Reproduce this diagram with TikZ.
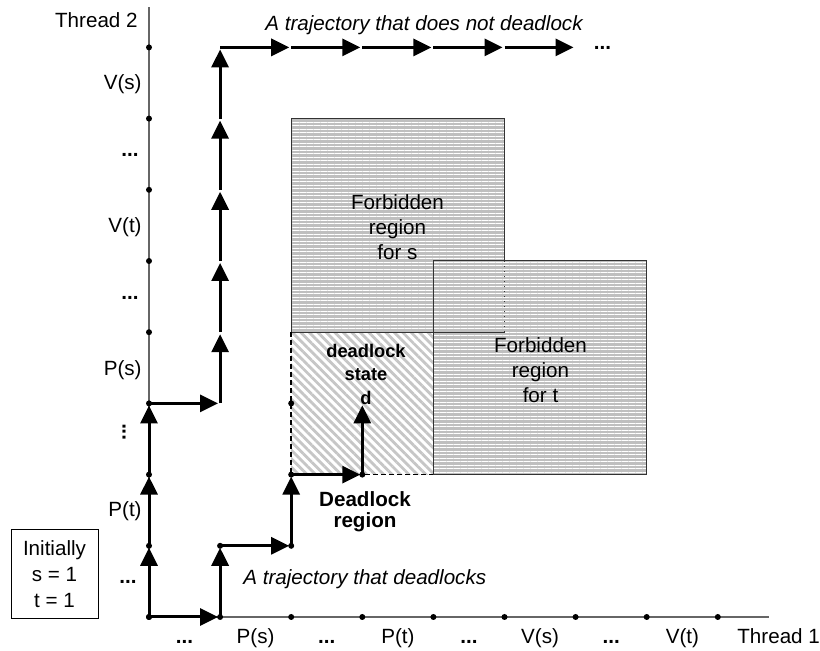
\documentclass[tikz,border=0pt]{standalone}
\usepackage{fontspec}
\setmainfont{Liberation Sans}
\usetikzlibrary{arrows.meta,patterns.meta}

\tikzset{
    axis/.style={line width=0.6pt, black!60},
    move/.style={line width=1.5pt, -{Triangle[length=9pt,width=8.5pt]}, shorten >=1pt},
    pt/.style={circle, fill=black, inner sep=0pt, minimum size=3pt},
    region/.style={line width=0.5pt, black!80},
    lbl/.style={inner sep=0pt, font=\fontsize{10.3}{12.5}\selectfont},
    ellip/.style={inner sep=0pt, font=\fontsize{10.3}{12.5}\selectfont\bfseries},
    slanted/.style={inner sep=0pt, font=\fontsize{10.3}{12.5}\selectfont\itshape},
}

\begin{document}
\begin{tikzpicture}[x=0.5pt, y=-0.5pt]
    \useasboundingbox (0,0) rectangle (820,651);

    % grid of states
    \foreach \i in {0,...,8}
        \foreach \j in {0,...,8}
            \coordinate (g\i\j) at ({149+71.1*\i},{617-71.2*\j});
    \coordinate (xend) at (769,617);
    \coordinate (yend) at (149,7);

    % deadlock region
    \fill[pattern={Lines[angle=-45,distance=3pt,line width=1.4pt]}, pattern color=gray!45] (g22) rectangle (g44);
    % forbidden regions
    \foreach \a/\b in {g24/g57, g42/g75} {
        \fill[gray!50] (\a) rectangle (\b);
        \fill[pattern={Lines[angle=0,distance=1.75pt,line width=0.5pt]}, pattern color=white] (\a) rectangle (\b);
    }
    \draw[region] (g55) -- (g57) -- (g27) -- (g24) -- (g54);
    \draw[region, dotted] (g54) -- (g55);
    \draw[region] (g42) rectangle (g75);
    \draw[line width=0.9pt, dash pattern=on 2.5pt off 1.5pt] (g24) -- (g22) -- (g42);

    % axes
    \draw[axis] (g00) -- (xend);
    \draw[axis] (g00) -- (yend);
    \foreach \k in {0,...,8} {
        \node[pt] (xd\k) at (g\k0) {};
        \node[pt] (yd\k) at (g0\k) {};
    }

    % trajectory that deadlocks
    \foreach \a/\b in {g00/g10, g10/g11, g11/g21, g21/g22, g22/g32, g32/g33}
        \draw[move] (\a) -- (\b);
    % trajectory that does not deadlock
    \foreach \a/\b in {g00/g01, g01/g02, g02/g03, g03/g13, g13/g14, g14/g15, g15/g16,
                       g16/g17, g17/g18, g18/g28, g28/g38, g38/g48, g48/g58, g58/g68}
        \draw[move] (\a) -- (\b);
    \foreach \p in {g11, g21, g22, g32, g23}
        \node[pt] (d\p) at (\p) {};

    % thread 2
    \node[lbl, anchor=base east] (t2) at (138,28) {Thread 2};
    \node[lbl, anchor=base east] (vs2) at (142,90) {V(s)};
    \node[ellip, anchor=base] (e21) at (130,157) {...};
    \node[lbl, anchor=base east] (vt2) at (142,233) {V(t)};
    \node[ellip, anchor=base] (e22) at (130,299.5) {...};
    \node[lbl, anchor=base east] (ps2) at (142,376) {P(s)};
    \node[ellip, rotate=90] (e23) at (124,432) {...};
    \node[lbl, anchor=base east] (pt2) at (142,517) {P(t)};
    \node[ellip, anchor=base] (e24) at (128,584) {...};

    % thread 1
    \node[ellip, anchor=base] (e11) at (184.5,643.5) {...};
    \node[lbl, anchor=base] (ps1) at (255.6,643.5) {P(s)};
    \node[ellip, anchor=base] (e12) at (326.8,643.5) {...};
    \node[lbl, anchor=base] (pt1) at (397.9,643.5) {P(t)};
    \node[ellip, anchor=base] (e13) at (469,643.5) {...};
    \node[lbl, anchor=base] (vs1) at (540.1,643.5) {V(s)};
    \node[ellip, anchor=base] (e14) at (611.2,643.5) {...};
    \node[lbl, anchor=base] (vt1) at (682.4,643.5) {V(t)};
    \node[lbl, anchor=base west] (t1) at (737,643.5) {Thread 1};

    % region texts
    \node[lbl, align=center] (fs) at (397.5,227.5) {Forbidden\\region\\for s};
    \node[lbl, align=center] (ft) at (540.5,370) {Forbidden\\region\\for t};
    \node[inner sep=0pt, align=center, font=\fontsize{9.15}{11.75}\selectfont\bfseries] (dstate) at (366,374) {deadlock\\state\\d};
    \node[inner sep=0pt, align=center, font=\fontsize{10.3}{10.5}\selectfont\bfseries] (dreg) at (365,512) {Deadlock\\region};

    % trajectory texts
    \node[slanted, anchor=base west] (good) at (265,31) {A trajectory that does not deadlock};
    \node[ellip, anchor=base] (etop) at (602.5,49.5) {...};
    \node[slanted, anchor=base west] (bad) at (243,585) {A trajectory that deadlocks};

    % start state
    \node[draw, line width=0.5pt, minimum width=43.5pt, minimum height=44.5pt, align=center,
          font=\fontsize{10.3}{13}\selectfont] (init) at (54.5,574.5) {Initially\\s = 1\\t = 1};
\end{tikzpicture}
\end{document}
